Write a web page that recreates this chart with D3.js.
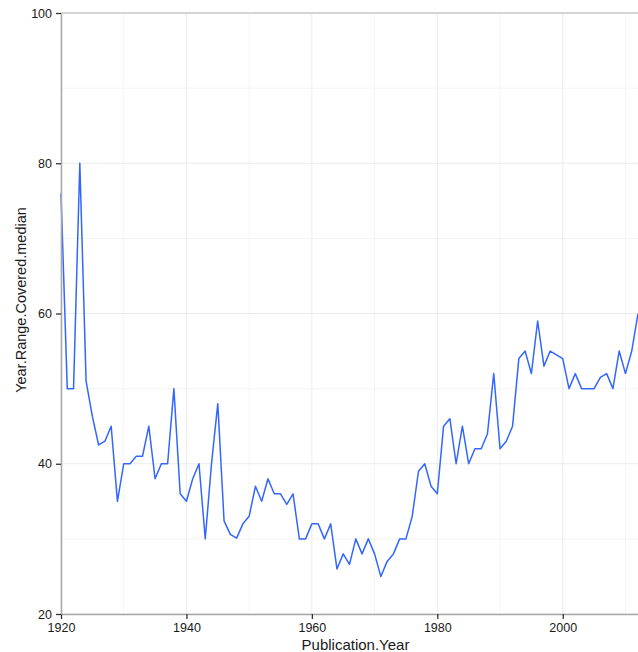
<!DOCTYPE html>
<html>
<head>
<meta charset="utf-8">
<script src="https://cdnjs.cloudflare.com/ajax/libs/d3/7.8.5/d3.min.js"></script>
<style>
  html, body { margin: 0; padding: 0; background: #fff; }
  svg { display: block; }
  text { font-family: "Liberation Sans", Arial, Helvetica, sans-serif; }
</style>
</head>
<body>
<svg id="chart" width="638" height="652"></svg>
<script>
const years = d3.range(1920, 2013);
const medians = [
  76, 50, 50, 80, 51, 46.3, 42.5, 43, 45, 35,
  40, 40, 41, 41, 45, 38, 40, 40, 50, 36,
  35, 38, 40, 30, 40, 48, 32.4, 30.6, 30.1, 32,
  33, 37, 35, 38, 36, 36, 34.6, 36, 30, 30,
  32, 32, 30, 32, 26, 28, 26.6, 30, 28, 30,
  28, 25, 27, 28, 30, 30, 33, 39, 40, 37,
  36, 45, 46, 40, 45, 40, 42, 42, 44, 52,
  42, 43, 45, 54, 55, 52, 59, 53, 55, 54.5,
  54, 50, 52, 50, 50, 50, 51.5, 52, 50, 55,
  52, 55, 60
];
const xTicks = [1920, 1940, 1960, 1980, 2000];
const xMinor = [1930, 1950, 1970, 1990, 2010];
const yTicks = [20, 40, 60, 80, 100];
const yMinor = [30, 50, 70, 90];

const data = years.map((yr, i) => ({ year: yr, v: medians[i] }));

const svg = d3.select("#chart");
const mLeft = 61, mRight = 638, mTop = 13, mBottom = 614;

const x = d3.scaleLinear().domain([1920, 2012]).range([mLeft, mRight]);
const y = d3.scaleLinear().domain([20, 100]).range([mBottom, mTop]);

// grid
const g = svg.append("g");
g.selectAll(".vminor").data(xMinor).enter().append("line")
  .attr("x1", d => x(d)).attr("x2", d => x(d)).attr("y1", mTop).attr("y2", mBottom)
  .attr("stroke", "#f4f4f4").attr("stroke-width", 1);
g.selectAll(".hminor").data(yMinor).enter().append("line")
  .attr("x1", mLeft).attr("x2", mRight).attr("y1", d => y(d)).attr("y2", d => y(d))
  .attr("stroke", "#f4f4f4").attr("stroke-width", 1);
g.selectAll(".vmajor").data(xTicks).enter().append("line")
  .attr("x1", d => x(d)).attr("x2", d => x(d)).attr("y1", mTop).attr("y2", mBottom)
  .attr("stroke", "#ebebeb").attr("stroke-width", 1);
g.selectAll(".hmajor").data(yTicks).enter().append("line")
  .attr("x1", mLeft).attr("x2", mRight).attr("y1", d => y(d)).attr("y2", d => y(d))
  .attr("stroke", "#ebebeb").attr("stroke-width", 1);

// top border
svg.append("line").attr("x1", mLeft).attr("x2", mRight).attr("y1", mTop).attr("y2", mTop)
  .attr("stroke", "#c8c8c8").attr("stroke-width", 1.5);

// line
svg.append("path").datum(data)
  .attr("fill", "none")
  .attr("stroke", "#3366FF")
  .attr("stroke-width", 1.5)
  .attr("stroke-linejoin", "round")
  .attr("d", d3.line().x(d => x(d.year)).y(d => y(d.v)));

// axes
const xAxis = svg.append("g").attr("transform", `translate(0,${mBottom})`)
  .call(d3.axisBottom(x).tickValues(xTicks).tickFormat(d3.format("d")).tickSize(5).tickSizeOuter(0));
const yAxis = svg.append("g").attr("transform", `translate(${mLeft},0)`)
  .call(d3.axisLeft(y).tickValues(yTicks).tickSize(5).tickSizeOuter(0));

[xAxis, yAxis].forEach(a => {
  a.attr("font-size", null).attr("font-family", null);
  a.select(".domain").attr("stroke", "#a8a8a8").attr("stroke-width", 1.5);
  a.selectAll(".tick line").attr("stroke", "#333").attr("stroke-width", 1.3);
  a.selectAll(".tick text").attr("fill", "#1a1a1a")
    .attr("font-size", "12.5px")
    .attr("font-family", '"Liberation Sans", Arial, sans-serif');
});
xAxis.selectAll(".tick text").attr("y", 9).attr("dy", "0.71em");
yAxis.selectAll(".tick text").attr("x", -9);

// titles
svg.append("text").attr("x", (mLeft + mRight) / 2 + 6).attr("y", 650)
  .attr("text-anchor", "middle").attr("font-size", "15px").attr("fill", "#1a1a1a")
  .text("Publication.Year");
svg.append("text").attr("transform", `translate(26,300) rotate(-90)`)
  .attr("text-anchor", "middle").attr("font-size", "14.5px").attr("fill", "#1a1a1a")
  .text("Year.Range.Covered.median");
</script>
</body>
</html>
